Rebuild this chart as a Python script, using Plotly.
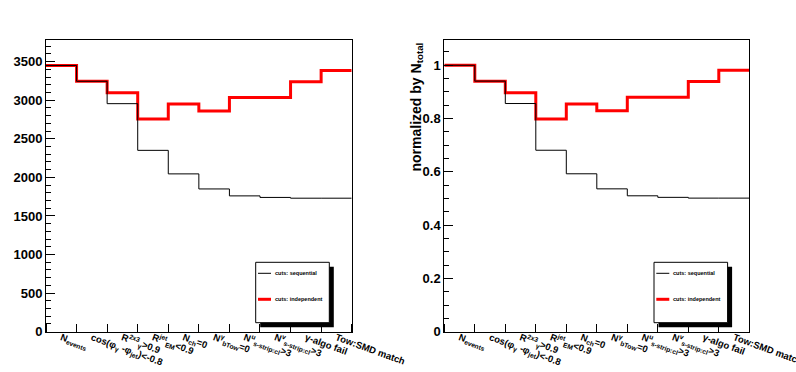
import plotly.graph_objects as go

# ---- data ----
cut_labels = [
    "N<sub>events</sub>",
    "cos(φ<sub>γ</sub> -φ<sub>jet</sub>)&lt;-0.8",
    "R<sup>2x3</sup><sub>γ</sub>&gt;0.9",
    "R<sup>jet</sup><sub>EM</sub>&lt;0.9",
    "N<sub>ch</sub>=0",
    "N<sup>γ</sup><sub>bTow</sub>=0",
    "N<sup>u</sup><sub>s-strip:cl</sub>&gt;3",
    "N<sup>v</sup><sub>s-strip:cl</sub>&gt;3",
    "γ-algo fail",
    "Tow:SMD match",
]
seq_counts = [3450, 3245, 2955, 2350, 2045, 1850, 1760, 1740, 1730, 1730]
ind_counts = [3450, 3245, 3095, 2755, 2950, 2860, 3035, 3035, 3240, 3385]
n_total = seq_counts[0]
seq_norm = [v / n_total for v in seq_counts]
ind_norm = [v / n_total for v in ind_counts]

W, H = 796, 372
def px(x): return x / W
def py(y): return 1 - y / H

edges = list(range(len(cut_labels) + 1))
centers = [i + 0.5 for i in range(len(cut_labels))]

def step(vals):
    return vals + [vals[-1]]

fig = go.Figure()
for xa, ya, seq, ind in [("x", "y", seq_counts, ind_counts), ("x2", "y2", seq_norm, ind_norm)]:
    fig.add_trace(go.Scatter(x=edges, y=step(ind), mode="lines", line=dict(color="#ff0000", width=3, shape="hv"),
                             xaxis=xa, yaxis=ya, showlegend=False, hoverinfo="skip"))
    fig.add_trace(go.Scatter(x=edges, y=step(seq), mode="lines", line=dict(color="black", width=1, shape="hv"),
                             xaxis=xa, yaxis=ya, showlegend=False, hoverinfo="skip"))

FONT = "Liberation Sans, Arial, Helvetica, sans-serif"

def xaxis_cfg(l, r, anchor):
    return dict(domain=[px(l), px(r)], range=[0, 10], tickmode="array", tickvals=centers, ticktext=cut_labels,
                tickangle=20, ticks="", showgrid=False, zeroline=False, showline=True, mirror=True,
                linecolor="black", linewidth=1, automargin=False, anchor=anchor, ticklabelstandoff=-4,
                ticklabeloverflow="allow",
                tickfont=dict(family=FONT, size=9.5, color="black", weight="bold"),
                minor=dict(tick0=0, dtick=1, ticks="inside", ticklen=8, tickcolor="black", tickwidth=1, showgrid=False))

def yaxis_cfg(rng, dt, mdt, anchor):
    return dict(domain=[py(331.7), py(40)], range=rng, dtick=dt, tick0=0, ticks="inside", ticklen=9,
                tickcolor="black", tickwidth=1, showgrid=False, zeroline=False, showline=True, mirror=True,
                linecolor="black", linewidth=1, anchor=anchor, automargin=False,
                tickfont=dict(family=FONT, size=13, color="black", weight="bold"),
                minor=dict(dtick=mdt, tick0=0, ticks="inside", ticklen=5, tickcolor="black", tickwidth=1, showgrid=False))

fig.update_layout(
    width=W, height=H, margin=dict(l=0, r=0, t=0, b=0, pad=0, autoexpand=False),
    paper_bgcolor="white", plot_bgcolor="white", showlegend=False,
    xaxis=xaxis_cfg(46, 351.7, "y"),
    yaxis=yaxis_cfg([0, 3780], 500, 100, "x"),
    xaxis2=xaxis_cfg(444.3, 749.3, "y2"),
    yaxis2=yaxis_cfg([0, 1.095], 0.2, 0.05, "x2"),
)

shapes = []
annos = []
for off in [0, 398.3]:
    bx0, by0, bx1, by1 = 255.7 + off, 262.3, 329.3 + off, 322.7
    shapes.append(dict(type="rect", xref="paper", yref="paper", x0=px(bx0 + 4.5), x1=px(bx1 + 4.5),
                       y0=py(by0 + 4.5), y1=py(by1 + 4.5), fillcolor="black", line=dict(width=0), layer="above"))
    shapes.append(dict(type="rect", xref="paper", yref="paper", x0=px(bx0), x1=px(bx1),
                       y0=py(by0), y1=py(by1), fillcolor="white", line=dict(color="black", width=1), layer="above"))
    shapes.append(dict(type="line", xref="paper", yref="paper", x0=px(258 + off), x1=px(271 + off),
                       y0=py(273.3), y1=py(273.3), line=dict(color="black", width=1), layer="above"))
    shapes.append(dict(type="line", xref="paper", yref="paper", x0=px(258 + off), x1=px(271 + off),
                       y0=py(299.3), y1=py(299.3), line=dict(color="#ff0000", width=3), layer="above"))
    for txt, yy in [("cuts: sequential", 273.3), ("cuts: independent", 299.3)]:
        annos.append(dict(text=txt, xref="paper", yref="paper", x=px(273 + off), y=py(yy), xanchor="left",
                          yanchor="middle", showarrow=False,
                          font=dict(family=FONT, size=5.5, color="black", weight="bold")))

annos.append(dict(text="normalized by N<sub>total</sub>", xref="paper", yref="paper", x=px(416), y=py(41),
                  xanchor="center", yanchor="top", textangle=-90, showarrow=False,
                  font=dict(family=FONT, size=14, color="black", weight="bold")))

fig.update_layout(shapes=shapes, annotations=annos)
fig.write_html("out.html", config={"displayModeBar": False},
               post_script="document.body.style.margin='0px';document.body.style.padding='0px';")
